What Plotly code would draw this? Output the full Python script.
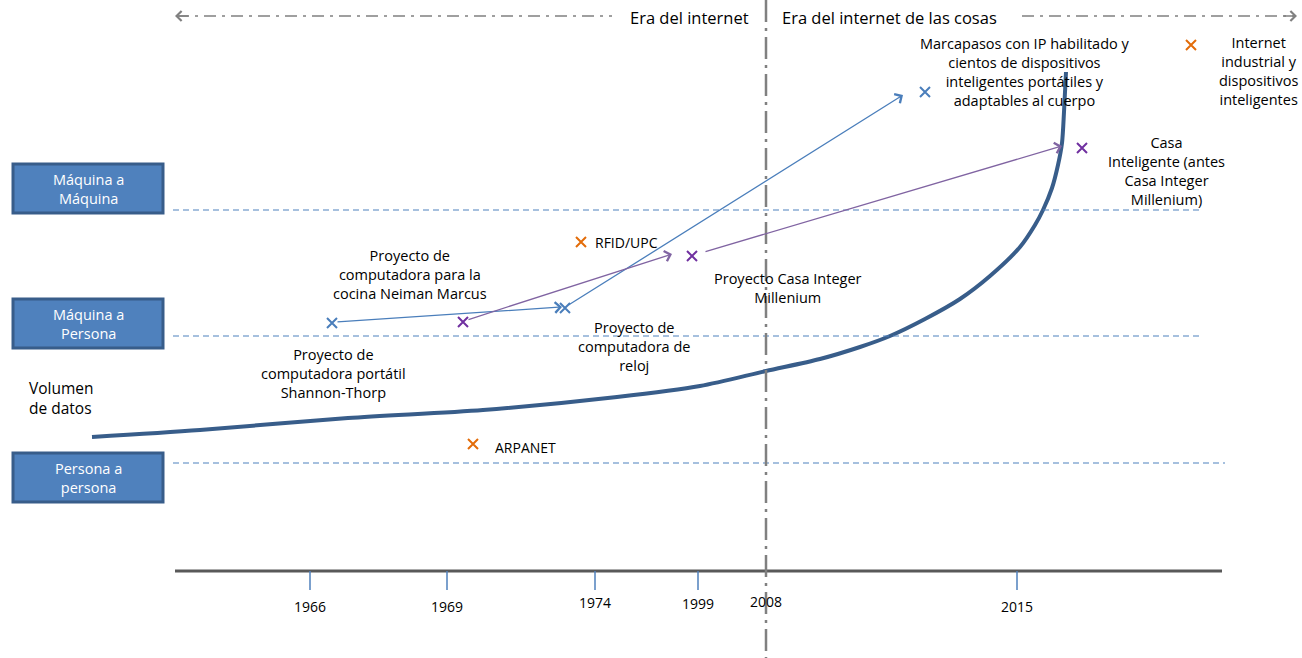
import plotly.graph_objects as go

# ---------------- data ----------------
tick_years = ["1966", "1969", "1974", "1999", "2008", "2015"]
tick_x = [310, 447, 595, 698, 766, 1017]
tick_label_y = [606, 606, 602, 603, 601, 606]

curve_x = [92, 200, 348, 483, 617, 700, 766, 820, 860, 890, 925, 960, 990, 1020, 1035, 1043,
           1052, 1058, 1062, 1064, 1066]
curve_y = [437, 430, 418, 410, 397, 386, 371, 359, 347, 336, 319, 299, 276, 247, 225, 210,
           188, 165, 143, 112, 72]

event_x = [332, 463, 565, 581, 692, 473, 925, 1191, 1082]
event_y = [323, 322, 308, 242, 256, 444, 92, 45, 148]
event_kind = ["blue", "purple", "blue", "orange", "purple", "orange", "blue", "orange", "purple"]

label_lines = [
    ["Proyecto de", "computadora portátil", "Shannon-Thorp"],
    ["Proyecto de", "computadora para la", "cocina Neiman Marcus"],
    ["Proyecto de", "computadora de", "reloj"],
    ["RFID/UPC"],
    ["Proyecto Casa Integer", "Millenium"],
    ["ARPANET"],
    ["Marcapasos con IP habilitado y", "cientos de dispositivos",
     "inteligentes portátiles y", "adaptables al cuerpo"],
    ["Internet", "industrial y", "dispositivos", "inteligentes"],
    ["Casa", "Inteligente (antes", "Casa Integer", "Millenium)"],
]
label_x = [333, 410, 634, 594, 788, 494, 1025, 1258, 1166]
label_mid_y = [373, 274, 346, 242, 288, 447, 72, 71, 171]
label_anchor = ["center", "center", "center", "left", "center", "left", "center", "center", "center"]

arrow_from_x = [336, 567, 467, 704]
arrow_from_y = [322, 306, 320, 252]
arrow_to_x = [562, 903, 672, 1062]
arrow_to_y = [307, 95, 254, 146]
arrow_kind = ["blue", "blue", "purple", "purple"]

box_lines = [["Máquina a", "Máquina"], ["Máquina a", "Persona"], ["Persona a", "persona"]]
box_top = [164, 299, 453]
box_bottom = [213, 348, 502]
level_y = [210, 336, 463]
level_end = [1200, 1200, 1225]

# ---------------- styles ----------------
FONT = "'Open Sans', sans-serif"
marker_colors = {"blue": "#4A7EBB", "purple": "#7030A0", "orange": "#E36C09"}
arrow_colors = {"blue": "#4A7EBB", "purple": "#8064A2"}
GRAY = "#808080"

fig = go.Figure()
shapes = []
annotations = []


def add_text(lines, x, y_mid, size, color="black", anchor="center", align="center"):
    annotations.append(dict(x=x, y=y_mid, xref="x", yref="y", text="<br>".join(lines),
                            showarrow=False, font=dict(family=FONT, size=size, color=color),
                            xanchor=anchor, yanchor="middle", align=align, borderpad=0))


# level dashed lines
for y, xe in zip(level_y, level_end):
    shapes.append(dict(type="line", x0=173, x1=xe, y0=y, y1=y, xref="x", yref="y",
                       line=dict(color="#4F81BD", width=1.2, dash="6px,4px")))

# category boxes
for lines, y0, y1 in zip(box_lines, box_top, box_bottom):
    shapes.append(dict(type="rect", x0=13, x1=163, y0=y0, y1=y1, xref="x", yref="y",
                       fillcolor="#4F81BD", line=dict(color="#385D8A", width=3)))
    add_text(lines, 88, (y0 + y1) / 2, 14.5, color="white")

# timeline axis
shapes.append(dict(type="line", x0=175, x1=1222, y0=571, y1=571, xref="x", yref="y",
                   line=dict(color="#595959", width=3)))
for yr, tx, ty in zip(tick_years, tick_x, tick_label_y):
    if yr != "2008":
        shapes.append(dict(type="line", x0=tx, x1=tx, y0=571, y1=590, xref="x", yref="y",
                           line=dict(color="#4F81BD", width=1.5)))
    add_text([yr], tx, ty, 14)

# 2008 era divider
shapes.append(dict(type="line", x0=766, x1=766, y0=0, y1=658, xref="x", yref="y",
                   line=dict(color=GRAY, width=2.5, dash="22px,6px,3px,6px")))

# era arrows at top
shapes.append(dict(type="line", x0=177, x1=612, y0=16, y1=16, xref="x", yref="y",
                   line=dict(color=GRAY, width=1.5, dash="12px,6px,3px,6px")))
shapes.append(dict(type="line", x0=1022, x1=1295, y0=16, y1=16, xref="x", yref="y",
                   line=dict(color=GRAY, width=1.5, dash="12px,6px,3px,6px")))
annotations.append(dict(x=175, y=16, ax=190, ay=16, axref="x", ayref="y", xref="x", yref="y",
                        text="", showarrow=True, arrowhead=4, arrowsize=1.3, arrowwidth=1.5,
                        arrowcolor=GRAY, standoff=0))
annotations.append(dict(x=1297, y=16, ax=1282, ay=16, axref="x", ayref="y", xref="x", yref="y",
                        text="", showarrow=True, arrowhead=4, arrowsize=1.3, arrowwidth=1.5,
                        arrowcolor=GRAY, standoff=0))
add_text(["Era del internet"], 750, 17, 16.5, anchor="right")
add_text(["Era del internet de las cosas"], 781, 17, 16.5, anchor="left")

# Volumen de datos
add_text(["Volumen", "de datos"], 28, 398, 15.5, anchor="left", align="left")

# data volume curve
fig.add_trace(go.Scatter(x=curve_x, y=curve_y, mode="lines",
                         line=dict(color="#385D8A", width=4, shape="spline", smoothing=0.8),
                         hoverinfo="skip", showlegend=False))

# arrows between events
for fx, fy, tx, ty, k in zip(arrow_from_x, arrow_from_y, arrow_to_x, arrow_to_y, arrow_kind):
    annotations.append(dict(x=tx, y=ty, ax=fx, ay=fy, xref="x", yref="y", axref="x", ayref="y",
                            text="", showarrow=True, arrowhead=4, arrowsize=1.6, arrowwidth=1.3,
                            arrowcolor=arrow_colors[k], standoff=0, startstandoff=0))

# event markers
for k in ["blue", "purple", "orange"]:
    xs = [x for x, kk in zip(event_x, event_kind) if kk == k]
    ys = [y for y, kk in zip(event_y, event_kind) if kk == k]
    fig.add_trace(go.Scatter(x=xs, y=ys, mode="markers",
                             marker=dict(symbol="x-thin", size=10,
                                         line=dict(color=marker_colors[k], width=2)),
                             hoverinfo="skip", showlegend=False))

# event labels
for lines, lx, ly, anc in zip(label_lines, label_x, label_mid_y, label_anchor):
    size = 14 if len(lines) == 1 else 14.5
    add_text(lines, lx, ly, size, anchor=anc)

fig.update_layout(
    width=1302, height=658, margin=dict(l=0, r=0, t=0, b=0),
    paper_bgcolor="white", plot_bgcolor="white",
    xaxis=dict(range=[0, 1302], visible=False, fixedrange=True),
    yaxis=dict(range=[658, 0], visible=False, fixedrange=True),
    shapes=shapes, annotations=annotations, showlegend=False,
)

fig.write_html("out.html", config={"displayModeBar": False},
               post_script="document.body.style.margin='0';")
